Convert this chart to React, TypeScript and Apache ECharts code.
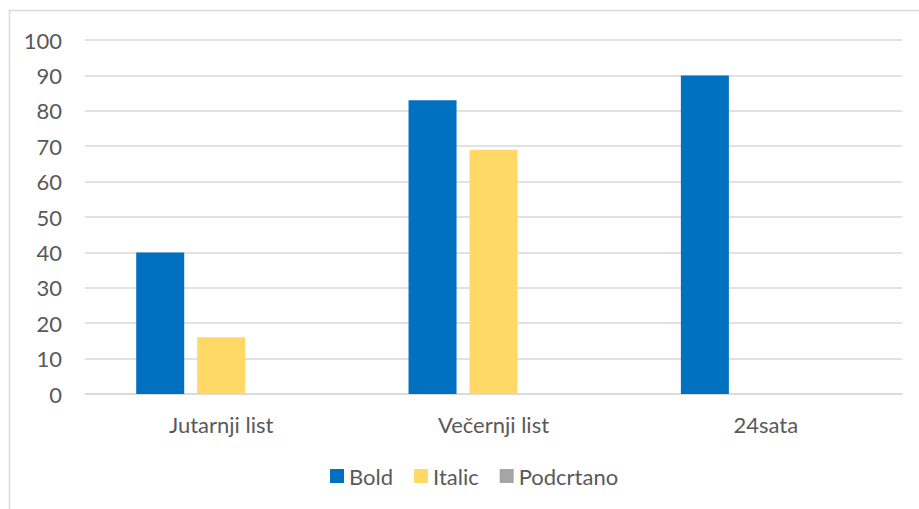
import React, { useEffect, useRef } from "react";
import * as echarts from "echarts";

const categories = ["Jutarnji list", "Večernji list", "24sata"];
const boldValues = [40, 83, 90];
const italicValues = [16, 69, 0];
const podcrtanoValues = [0, 0, 0];
const seriesNames = ["Bold", "Italic", "Podcrtano"];
const yTicks = { min: 0, max: 100, interval: 10 };

const FONT = "Lato, 'Open Sans', sans-serif";
const TEXT = "#595959";
const FS = 22;

export default function App() {
  const ref = useRef<HTMLDivElement>(null);
  useEffect(() => {
    if (!ref.current) return;
    const chart = echarts.init(ref.current, undefined, { renderer: "svg" });
    chart.setOption({
      animation: false,
      backgroundColor: "#ffffff",
      graphic: [
        {
          type: "rect",
          shape: { x: 9.5, y: 10.5, width: 1000, height: 600 },
          style: { fill: "none", stroke: "#d9d9d9", lineWidth: 1.5 },
          silent: true,
        },
      ],
      grid: { left: 85, right: 17, top: 40, bottom: 115 },
      legend: {
        data: seriesNames,
        top: 460,
        left: 325,
        itemWidth: 14,
        itemHeight: 14,
        itemGap: 21,
        icon: "rect",
        textStyle: { color: TEXT, fontSize: FS, fontFamily: FONT },
      },
      xAxis: {
        type: "category",
        data: categories,
        axisLine: { show: true, lineStyle: { color: "#d9d9d9", width: 1.5 } },
        axisTick: { show: false },
        axisLabel: { color: TEXT, fontSize: FS, fontFamily: FONT, margin: 19 },
      },
      yAxis: {
        type: "value",
        min: yTicks.min,
        max: yTicks.max,
        interval: yTicks.interval,
        axisLine: { show: false },
        axisTick: { show: false },
        splitLine: { lineStyle: { color: "#d9d9d9", width: 1.5 } },
        axisLabel: { color: TEXT, fontSize: FS, fontFamily: FONT, margin: 23 },
      },
      series: [
        { name: seriesNames[0], type: "bar", data: boldValues, barWidth: 48, barGap: "27%", itemStyle: { color: "#0070C0" } },
        { name: seriesNames[1], type: "bar", data: italicValues, barWidth: 48, barGap: "27%", itemStyle: { color: "#FFD966" } },
        { name: seriesNames[2], type: "bar", data: podcrtanoValues, barWidth: 48, barGap: "27%", itemStyle: { color: "#A5A5A5" } },
      ],
    });
    return () => chart.dispose();
  }, []);
  return (
    <div
      ref={ref}
      style={{ position: "absolute", left: 0, top: 0, width: 919, height: 509 }}
    />
  );
}
